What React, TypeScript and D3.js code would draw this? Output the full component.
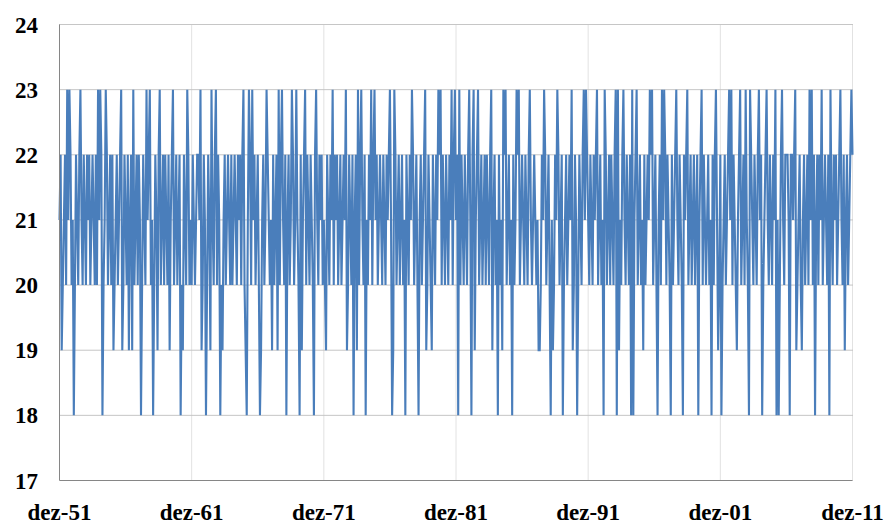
import * as d3 from 'd3';
import { useEffect, useRef } from 'react';

// monthly values, one string per decade, one char per month (last digit: 8=18, 9=19, 0=20 ... 3=23)
const decade1 = '129012031320' + '180210231021' + '021201210203' + '132801320120' + '290120123902' + '102912930120' + '218021031230' + '180219230120' + '210291230120' + '128092103201';
const decade2 = '021012213902' + '180219310230' + '218091201210' + '201210212023' + '098132031201' + '208912013210' + '192012930231' + '028120132013' + '108291230210' + '210823102120';
const decade3 = '109210213021' + '201201213902' + '102812930231' + '028102130231' + '201210210212' + '318932012012' + '018210213201' + '208120123902' + '109210213230' + '210210213023';
const decade4 = '128302102102' + '318239123012' + '012021023912' + '018201932301' + '201820132301' + '210210231012' + '101990213201' + '208190213201' + '280120121390' + '218021023132';
const decade5 = '102102123012' + '018320120210' + '238391023102' + '102838123012' + '019201213230' + '120812031320' + '210820123102' + '108212301201' + '201281230210' + '120182023190';
const decade6 = '280120123130' + '210912301203' + '108321021023' + '128012310210' + '213818023102' + '221822123901' + '209120120313' + '028120213012' + '102831021201' + '231029120123' + '2';

const xLabels = ['dez-51', 'dez-61', 'dez-71', 'dez-81', 'dez-91', 'dez-01', 'dez-11'];
const yTicks = [17, 18, 19, 20, 21, 22, 23, 24];

const toValue = (c: string) => {
  const d = +c;
  return d >= 8 ? 10 + d : 20 + d;
};

const values: number[] = [decade1, decade2, decade3, decade4, decade5, decade6]
  .join('')
  .split('')
  .map(toValue);

const W = 890;
const H = 525;
const margin = { top: 24.5, right: 37.5, bottom: 44.5, left: 59.5 };

const App = () => {
  const ref = useRef<SVGSVGElement>(null);

  useEffect(() => {
    const svg = d3.select(ref.current);
    svg.selectAll('*').remove();

    const x = d3
      .scaleLinear()
      .domain([0, (xLabels.length - 1) * 120])
      .range([margin.left, W - margin.right]);
    const y = d3
      .scaleLinear()
      .domain([17, 24])
      .range([H - margin.bottom, margin.top]);

    const font = '"Liberation Serif", "Times New Roman", serif';

    // horizontal grid
    svg
      .append('g')
      .selectAll('line')
      .data(yTicks.slice(1))
      .enter()
      .append('line')
      .attr('x1', x.range()[0])
      .attr('x2', x.range()[1])
      .attr('y1', (d) => y(d))
      .attr('y2', (d) => y(d))
      .style('stroke', '#8c8c8c')
      .style('stroke-width', 1)
      .style('stroke-dasharray', '1,1');

    // vertical grid
    svg
      .append('g')
      .selectAll('line')
      .data(xLabels.slice(1))
      .enter()
      .append('line')
      .attr('x1', (_, i) => x((i + 1) * 120))
      .attr('x2', (_, i) => x((i + 1) * 120))
      .attr('y1', y(17))
      .attr('y2', y(24))
      .style('stroke', '#c4c4c4')
      .style('stroke-width', 1)
      .style('stroke-dasharray', '1,1');

    const line = d3
      .line<number>()
      .x((_, i) => x(i))
      .y((d) => y(d));

    svg
      .append('path')
      .datum(values)
      .attr('d', line)
      .style('fill', 'none')
      .style('stroke', '#4a7ebb')
      .style('stroke-width', 2.1)
      .style('stroke-linejoin', 'miter');

    // axis lines
    svg
      .append('line')
      .attr('x1', x.range()[0])
      .attr('x2', x.range()[0])
      .attr('y1', y(24))
      .attr('y2', y(17))
      .style('stroke', '#868686');
    svg
      .append('line')
      .attr('x1', x.range()[0])
      .attr('x2', x.range()[1])
      .attr('y1', y(17))
      .attr('y2', y(17))
      .style('stroke', '#868686');

    svg
      .append('g')
      .selectAll('text')
      .data(yTicks)
      .enter()
      .append('text')
      .attr('x', 38)
      .attr('y', (d) => y(d))
      .attr('dy', '0.35em')
      .attr('text-anchor', 'end')
      .style('font-family', font)
      .style('font-weight', 'bold')
      .style('font-size', '23px')
      .text((d) => d);

    svg
      .append('g')
      .selectAll('text')
      .data(xLabels)
      .enter()
      .append('text')
      .attr('x', (_, i) => x(i * 120))
      .attr('y', 520)
      .attr('text-anchor', 'middle')
      .style('font-family', font)
      .style('font-weight', 'bold')
      .style('font-size', '23px')
      .text((d) => d);
  }, []);

  return (
    <svg
      ref={ref}
      width={W}
      height={H}
      style={{ position: 'absolute', left: 0, top: 0, background: '#fff' }}
    ></svg>
  );
};

export default App;
